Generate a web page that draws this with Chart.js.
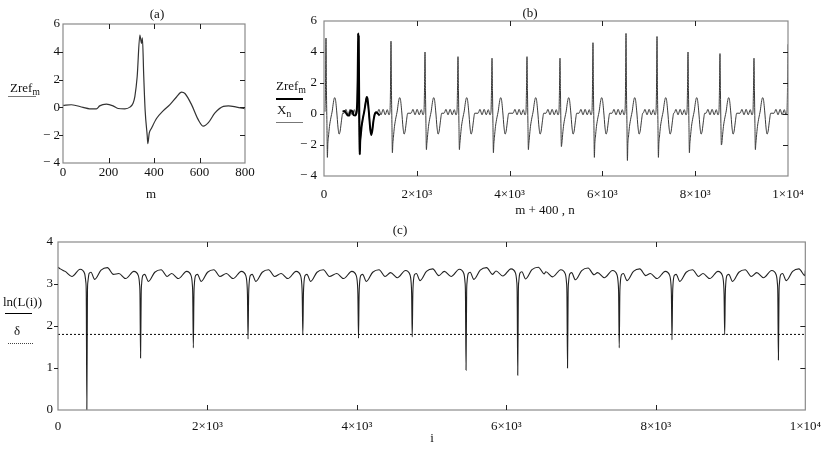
<!DOCTYPE html>
<html><head><meta charset="utf-8">
<script src="https://cdn.jsdelivr.net/npm/chart.js@4.4.1/dist/chart.umd.min.js"></script>
<style>
html,body{margin:0;padding:0;background:#fff;}
#wrap{position:relative;width:830px;height:452px;overflow:hidden;font-family:"Liberation Serif","Times New Roman",serif;color:#111;}
canvas{position:absolute;left:0;top:0;}
.t{position:absolute;font-size:13px;line-height:1;white-space:nowrap;transform:translate(-50%,-50%);}
.l{position:absolute;font-size:13px;line-height:1;white-space:nowrap;transform:translateY(-50%);}
.sb{font-size:9.5px;position:relative;top:3px;}
.ln{position:absolute;height:0;}
</style></head>
<body><div id="wrap">
<canvas id="ca" width="830" height="452" style="width:830px;height:452px"></canvas>
<canvas id="cb" width="830" height="452" style="width:830px;height:452px"></canvas>
<canvas id="cc" width="830" height="452" style="width:830px;height:452px"></canvas>
<div class="t" style="left:157px;top:13px">(a)</div>
<div class="t" style="left:530px;top:12px">(b)</div>
<div class="t" style="left:400px;top:229px">(c)</div>
<div class="t" style="left:151px;top:193px">m</div>
<div class="t" style="left:545px;top:209px">m + 400 , n</div>
<div class="t" style="left:432px;top:437px">i</div>
<div class="l" style="left:10px;top:88px">Zref<span class="sb">m</span></div>
<div class="ln" style="left:8px;top:96px;width:28px;border-top:1px solid #777"></div>
<div class="l" style="left:276px;top:86px">Zref<span class="sb">m</span></div>
<div class="ln" style="left:276px;top:98px;width:27px;border-top:2px solid #000"></div>
<div class="l" style="left:277px;top:110px">X<span class="sb">n</span></div>
<div class="ln" style="left:276px;top:122px;width:27px;border-top:1px solid #777"></div>
<div class="l" style="left:3px;top:301px">ln(L(i))</div>
<div class="ln" style="left:5px;top:313px;width:27px;border-top:1.5px solid #000"></div>
<div class="t" style="left:17px;top:330px">δ</div>
<div class="ln" style="left:8px;top:343px;width:25px;border-top:1px dotted #444"></div>
</div>
<script>
// ---------- Panel (a): Zref_m versus m ----------
const mA = [0,37,88,117,147,161,191,220,242,272,294,308,316,326,338,345,349,355,361,370,373,379,389,411,440,470,499,521,536,565,595,617,639,668,705,727,763,800];
const zrefA = [0.15,0.19,0.0,-0.1,-0.1,0.11,0.23,0.11,-0.08,-0.1,0.02,0.3,0.8,2.2,5.2,4.6,5.0,2.2,-0.2,-2.0,-2.6,-1.85,-1.5,-0.8,-0.25,0.2,0.75,1.1,1.0,0.2,-0.9,-1.35,-1.1,-0.4,0.07,0.11,0.02,-0.1];
const shiftB = 400; // Zref plotted at m + 400 in panel (b)

// ---------- Panel (b): X_n, one recurring beat ----------
const beatOffB = [-300,-260,-215,-170,-125,-80,-45,-22,-12,0,10,20,30,40,52,75,105,135,160,185,200,230,260,282,305,335,360];
const beatValB = [0.05,0.3,-0.05,0.3,-0.05,0.28,-0.05,0.15,1.4,4.2,1.5,-0.6,-2.4,-1.9,-1.5,-0.8,-0.25,0.2,0.75,1.05,1.0,0.2,-0.9,-1.3,-1.1,-0.4,0.05];
const peakIdxB = 9, troughIdxB = 12;
const beatPosB = [43,733,1444,2177,2888,3621,4375,5086,5797,6509,7177,7845,8534,9267,10000];
const beatPeakB = [4.9,5.2,4.7,4.0,3.7,3.6,3.7,3.6,4.6,5.2,5.0,4.0,3.9,3.6,4.5];
const beatTroughB = [-2.8,-2.6,-2.5,-2.3,-2.3,-2.5,-2.3,-2.1,-2.8,-3.0,-2.8,-2.5,-2.0,-2.3,-2.3];

// ---------- Panel (c): ln(L(i)) and threshold delta ----------
const dipOffC = [-290,-200,-90,-30,-14,-8,0,8,14,30,55,105,190,275,355];
const dipValC = [3.25,3.13,3.3,3.2,3.0,2.75,1.5,2.75,3.0,3.2,3.23,3.06,3.28,3.34,3.18];
const dipIdxC = 6;
const dipPosC = [386,1105,1811,2543,3276,4021,4740,5460,6152,6818,7510,8216,8921,9640];
const dipMinC = [0,1.24,1.48,1.69,1.79,1.71,1.74,0.95,0.83,1.0,1.48,1.67,1.79,1.19];
const dipLevelC = [0.05,0,0,0,0,0,0.02,0.05,0.06,0.04,0.02,0,0,0.02];
const leadXC = [0,30], leadYC = [3.4,3.36];
const tailXC = [10000], tailYC = [3.32];
const delta = 1.8;

const xTicksA = [0,200,400,600,800];
const yTicksAB = [-4,-2,0,2,4,6];
const xTicksBC = [0,2000,4000,6000,8000,10000];
const yTicksC = [0,1,2,3,4];

// ---------- build point tables ----------
const ptsA = mA.map((m,i)=>({x:m, y:zrefA[i]}));
const ptsZrefB = mA.map((m,i)=>({x:m+shiftB, y:zrefA[i]}));
const ptsXB = [];
beatPosB.forEach((p,k)=>{
  beatOffB.forEach((o,j)=>{
    const x = p+o; if (x<0 || x>10000) return;
    let y = beatValB[j];
    if (j===peakIdxB) y = beatPeakB[k];
    if (j===troughIdxB) y = beatTroughB[k];
    ptsXB.push({x,y});
  });
});
const ptsC = leadXC.map((x,i)=>({x, y:leadYC[i]}));
dipPosC.forEach((p,k)=>{
  dipOffC.forEach((o,j)=>{
    const x = p+o; if (x<0 || x>10000) return;
    const y = (j===dipIdxC) ? dipMinC[k] : dipValC[j]+dipLevelC[k];
    ptsC.push({x,y});
  });
});
tailXC.forEach((x,i)=>ptsC.push({x, y:tailYC[i]}));
const ptsDelta = [{x:0,y:delta},{x:10000,y:delta}];

// ---------- drawing ----------
const FONT = {family:"'Liberation Serif','Times New Roman',serif", size:13};
const yTick = v => v<0 ? '− '+Math.abs(v) : String(v);
const xTickBig = v => v===0 ? '0' : (v===10000 ? '1×10⁴' : (v/1000)+'×10³');

const framePlugin = {
  id:'frame',
  afterDraw(chart){
    const {ctx, chartArea:a, scales:{x,y}} = chart;
    ctx.save();
    ctx.strokeStyle = '#8a8a8a'; ctx.lineWidth = 1.2;
    ctx.strokeRect(a.left, a.top, a.right-a.left, a.bottom-a.top);
    ctx.strokeStyle = '#222'; ctx.lineWidth = 1;
    ctx.beginPath();
    x.ticks.forEach(t=>{
      if (t.value<=x.min || t.value>=x.max) return;
      const px = Math.round(x.getPixelForValue(t.value))+0.5;
      ctx.moveTo(px,a.top); ctx.lineTo(px,a.top+5);
      ctx.moveTo(px,a.bottom); ctx.lineTo(px,a.bottom-5);
    });
    y.ticks.forEach(t=>{
      if (t.value<=y.min || t.value>=y.max) return;
      const py = Math.round(y.getPixelForValue(t.value))+0.5;
      ctx.moveTo(a.right,py); ctx.lineTo(a.right-5,py);
      ctx.moveTo(a.left-4,py); ctx.lineTo(a.left,py);
    });
    ctx.stroke();
    ctx.restore();
  }
};

function make(id, datasets, c){
  return new Chart(document.getElementById(id), {
    type:'line',
    data:{datasets},
    options:{
      responsive:false, animation:false, events:[],
      layout:{padding:{left:c.l-c.yW, top:c.t, right:830-c.r, bottom:452-c.b-c.xH}},
      plugins:{legend:{display:false}, tooltip:{enabled:false}},
      elements:{point:{radius:0}},
      scales:{
        x:{type:'linear', min:c.xT[0], max:c.xT[c.xT.length-1],
           afterBuildTicks:s=>{s.ticks = c.xT.map(v=>({value:v}));},
           grid:{display:false, drawTicks:false}, border:{display:false},
           ticks:{autoSkip:false, maxRotation:0, minRotation:0, padding:c.xpad, font:FONT, color:'#111', callback:c.xcb},
           afterFit:s=>{s.height=c.xH;}},
        y:{type:'linear', min:c.yT[0], max:c.yT[c.yT.length-1],
           afterBuildTicks:s=>{s.ticks = c.yT.map(v=>({value:v}));},
           grid:{display:false, drawTicks:false}, border:{display:false},
           ticks:{autoSkip:false, padding:c.ypad, font:FONT, color:'#111', callback:yTick},
           afterFit:s=>{s.width=c.yW;}}
      }
    },
    plugins:[framePlugin]
  });
}

const smooth = {cubicInterpolationMode:'monotone', pointRadius:0, fill:false};

make('ca', [
  Object.assign({data:ptsA, borderColor:'#333', borderWidth:1.2}, smooth)
], {l:63, t:24, r:245, b:163, yW:40, xH:30, xT:xTicksA, yT:yTicksAB, xpad:2, ypad:3, xcb:v=>String(v)});

make('cb', [
  Object.assign({data:ptsZrefB, borderColor:'#000', borderWidth:2}, smooth),
  Object.assign({data:ptsXB, borderColor:'#3a3a3a', borderWidth:1}, smooth)
], {l:324, t:21, r:788, b:176, yW:40, xH:30, xT:xTicksBC, yT:yTicksAB, xpad:11, ypad:7, xcb:xTickBig});

make('cc', [
  {data:ptsDelta, borderColor:'#000', borderWidth:1, borderDash:[2,2], pointRadius:0, fill:false},
  Object.assign({data:ptsC, borderColor:'#222', borderWidth:1.1}, smooth)
], {l:58, t:242, r:808, b:410, yW:40, xH:30, xT:xTicksBC, yT:yTicksC, xpad:9, ypad:5, xcb:xTickBig});
</script>
</body></html>
